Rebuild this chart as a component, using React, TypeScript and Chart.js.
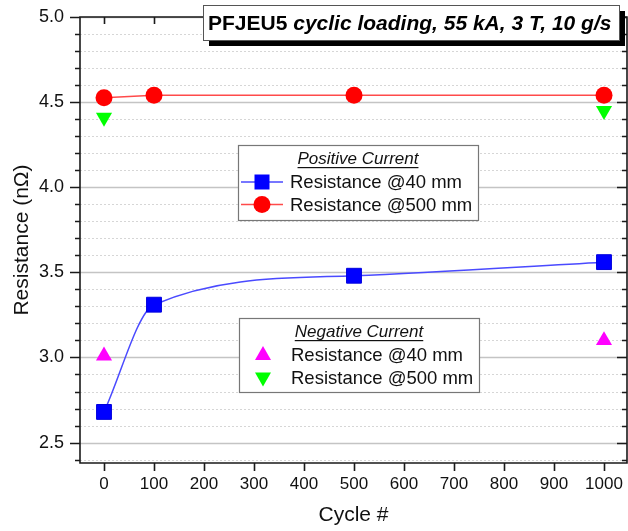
import React, { useEffect, useRef } from "react";
import { Chart, registerables } from "chart.js";

Chart.register(...registerables);

const cyclesPos = [0, 100, 500, 1000];
const res40Pos = [2.68, 3.31, 3.48, 3.56];
const res500Pos = [4.525, 4.54, 4.54, 4.54];
const cyclesNeg = [0, 1000];
const res40Neg = [3.01, 3.1];
const res500Neg = [4.41, 4.45];
const xTickValues = [0, 100, 200, 300, 400, 500, 600, 700, 800, 900, 1000];
const yTickTenths = [24, 25, 26, 27, 28, 29, 30, 31, 32, 33, 34, 35, 36, 37, 38, 39, 40, 41, 42, 43, 44, 45, 46, 47, 48, 49, 50];

const titleBold = "PFJEU5 ";
const titleItalic = "cyclic loading, 55 kA, 3 T, 10 g/s";
const legendPosTitle = "Positive Current";
const legendNegTitle = "Negative Current";
const label40 = "Resistance @40 mm";
const label500 = "Resistance @500 mm";

const FONT = "'Liberation Sans', Arial, sans-serif";
const TEXT = "#111111";

const BLUE = "#0000ff";
const BLUE_LINE = "#4a4aff";
const RED = "#ff0000";
const RED_LINE = "#ff4a4a";
const MAGENTA = "#ff00ff";
const GREEN = "#00ff00";

function drawMarker(ctx: CanvasRenderingContext2D, style: string, x: number, y: number, color: string) {
  ctx.save();
  ctx.fillStyle = color;
  ctx.beginPath();
  if (style === "rect") {
    ctx.rect(x - 7.5, y - 7.5, 15, 15);
  } else if (style === "circle") {
    ctx.arc(x, y, 8.5, 0, Math.PI * 2);
  } else if (style === "up") {
    ctx.moveTo(x, y - 9);
    ctx.lineTo(x + 8, y + 5);
    ctx.lineTo(x - 8, y + 5);
    ctx.closePath();
  } else {
    ctx.moveTo(x, y + 9);
    ctx.lineTo(x + 8, y - 5);
    ctx.lineTo(x - 8, y - 5);
    ctx.closePath();
  }
  ctx.fill();
  ctx.restore();
}

const framePlugin = {
  id: "frame",
  beforeDatasetsDraw(chart: any) {
    const ctx: CanvasRenderingContext2D = chart.ctx;
    const { left, right, top, bottom } = chart.chartArea;
    const ys = chart.scales.y;
    const xs = chart.scales.x;
    ctx.save();
    for (const k of yTickTenths) {
      const py = Math.round(ys.getPixelForValue(k / 10)) + 0.5;
      ctx.beginPath();
      if (k % 5 === 0) {
        ctx.strokeStyle = "#c4c4c4";
        ctx.lineWidth = 1.5;
        ctx.setLineDash([]);
      } else {
        ctx.strokeStyle = "#d6d6d6";
        ctx.lineWidth = 1;
        ctx.setLineDash([2, 2]);
      }
      ctx.moveTo(left, py);
      ctx.lineTo(right, py);
      ctx.stroke();
    }
    ctx.setLineDash([]);
    ctx.strokeStyle = "#1a1a1a";
    ctx.lineWidth = 1.6;
    ctx.beginPath();
    ctx.rect(left, top, right - left, bottom - top);
    ctx.stroke();
    for (const k of yTickTenths) {
      const py = Math.round(ys.getPixelForValue(k / 10)) + 0.5;
      const len = k % 5 === 0 ? 10 : 5;
      ctx.beginPath();
      ctx.moveTo(left, py);
      ctx.lineTo(left - len, py);
      ctx.moveTo(right, py);
      ctx.lineTo(right - len, py);
      ctx.stroke();
    }
    for (const v of xTickValues) {
      const px = Math.round(xs.getPixelForValue(v)) + 0.5;
      ctx.beginPath();
      ctx.moveTo(px, bottom);
      ctx.lineTo(px, bottom + 8);
      ctx.moveTo(px, top);
      ctx.lineTo(px, top + 7);
      ctx.stroke();
    }
    ctx.restore();
  },
  afterDraw(chart: any) {
    const ctx: CanvasRenderingContext2D = chart.ctx;
    ctx.save();
    const drawLegend = (bx: number, by: number, bw: number, bh: number, title: string, rows: { style: string; color: string; line: string | null; text: string }[]) => {
      ctx.fillStyle = "#ffffff";
      ctx.fillRect(bx, by, bw, bh);
      ctx.strokeStyle = "#777777";
      ctx.lineWidth = 1.2;
      ctx.strokeRect(bx + 0.5, by + 0.5, bw, bh);
      ctx.fillStyle = TEXT;
      ctx.font = `italic 17px ${FONT}`;
      ctx.textBaseline = "middle";
      ctx.textAlign = "center";
      const cx = bx + bw / 2;
      const ty = by + 14;
      ctx.fillText(title, cx, ty);
      const tw = ctx.measureText(title).width;
      ctx.fillRect(cx - tw / 2, ty + 8, tw, 1.2);
      ctx.textAlign = "left";
      ctx.font = `18.5px ${FONT}`;
      rows.forEach((r, i) => {
        const ry = by + 37 + i * 22.5;
        if (r.line) {
          ctx.strokeStyle = r.line;
          ctx.lineWidth = 1.5;
          ctx.beginPath();
          ctx.moveTo(bx + 3, ry);
          ctx.lineTo(bx + 45, ry);
          ctx.stroke();
        }
        drawMarker(ctx, r.style, bx + 24, ry, r.color);
        ctx.fillStyle = TEXT;
        ctx.fillText(r.text, bx + 52, ry + 1);
      });
    };
    drawLegend(238, 145, 240, 75, legendPosTitle, [
      { style: "rect", color: BLUE, line: BLUE_LINE, text: label40 },
      { style: "circle", color: RED, line: RED_LINE, text: label500 },
    ]);
    drawLegend(239, 318, 240, 74, legendNegTitle, [
      { style: "up", color: MAGENTA, line: null, text: label40 },
      { style: "down", color: GREEN, line: null, text: label500 },
    ]);
    const tx = 203, ty = 5, tw = 416, th = 35;
    ctx.fillStyle = "#000000";
    ctx.fillRect(tx + 6, ty + 6, tw, th);
    ctx.fillStyle = "#ffffff";
    ctx.fillRect(tx, ty, tw, th);
    ctx.strokeStyle = "#555555";
    ctx.lineWidth = 1;
    ctx.strokeRect(tx + 0.5, ty + 0.5, tw, th);
    ctx.fillStyle = "#000000";
    ctx.textBaseline = "alphabetic";
    ctx.textAlign = "left";
    ctx.font = `bold 21px ${FONT}`;
    const w1 = ctx.measureText(titleBold).width;
    ctx.fillText(titleBold, tx + 5, ty + 25);
    ctx.font = `italic bold 21px ${FONT}`;
    ctx.fillText(titleItalic, tx + 5 + w1, ty + 25);
    ctx.restore();
  },
};

export default function App() {
  const ref = useRef<HTMLCanvasElement | null>(null);
  useEffect(() => {
    if (!ref.current) return;
    const toPts = (xs: number[], ys: number[]) => xs.map((x, i) => ({ x, y: ys[i] }));
    const chart = new Chart(ref.current, {
      type: "line",
      data: {
        datasets: [
          {
            label: label40,
            data: toPts(cyclesPos, res40Pos),
            borderColor: BLUE_LINE,
            borderWidth: 1.5,
            backgroundColor: BLUE,
            pointBackgroundColor: BLUE,
            pointBorderColor: "#0000dd",
            pointBorderWidth: 1,
            pointStyle: "rect",
            pointRadius: 10.5,
            cubicInterpolationMode: "monotone",
          },
          {
            label: label500,
            data: toPts(cyclesPos, res500Pos),
            borderColor: RED_LINE,
            borderWidth: 1.5,
            backgroundColor: RED,
            pointBackgroundColor: RED,
            pointBorderColor: RED,
            pointBorderWidth: 0,
            pointStyle: "circle",
            pointRadius: 8.5,
            tension: 0,
          },
          {
            label: label40 + " (neg)",
            data: toPts(cyclesNeg, res40Neg),
            showLine: false,
            pointBackgroundColor: MAGENTA,
            pointBorderColor: MAGENTA,
            pointBorderWidth: 0,
            pointStyle: "triangle",
            pointRadius: 9.3,
          },
          {
            label: label500 + " (neg)",
            data: toPts(cyclesNeg, res500Neg),
            showLine: false,
            pointBackgroundColor: GREEN,
            pointBorderColor: GREEN,
            pointBorderWidth: 0,
            pointStyle: "triangle",
            pointRotation: 180,
            pointRadius: 9.3,
          },
        ],
      },
      options: {
        animation: false,
        responsive: false,
        events: [],
        layout: { autoPadding: false, padding: { top: 17, right: 1, left: 0, bottom: 0 } },
        plugins: { legend: { display: false }, tooltip: { enabled: false }, title: { display: false } },
        scales: {
          x: {
            type: "linear",
            min: -48,
            max: 1046,
            afterBuildTicks: (s: any) => {
              s.ticks = xTickValues.map((v) => ({ value: v }));
            },
            afterFit: (s: any) => {
              s.height = 68;
              s.paddingLeft = 0;
              s.paddingRight = 0;
            },
            grid: { display: false, drawTicks: false },
            border: { display: false },
            ticks: {
              autoSkip: false,
              maxRotation: 0,
              padding: 11,
              color: TEXT,
              font: { family: FONT, size: 17 },
              callback: (v: any) => String(v),
            },
            title: {
              display: true,
              text: "Cycle #",
              color: TEXT,
              font: { family: FONT, size: 21 },
              padding: { top: 0, bottom: 3 },
            },
          },
          y: {
            min: 2.38,
            max: 5.0,
            afterBuildTicks: (s: any) => {
              s.ticks = yTickTenths.map((k) => ({ value: k / 10 }));
            },
            afterFit: (s: any) => {
              s.width = 80;
              s.paddingTop = 0;
              s.paddingBottom = 0;
            },
            grid: { display: false, drawTicks: false },
            border: { display: false },
            ticks: {
              autoSkip: false,
              padding: 16,
              color: TEXT,
              font: { family: FONT, size: 18 },
              callback: (v: any) => {
                const k = Math.round(Number(v) * 10);
                return k % 5 === 0 ? (k / 10).toFixed(1) : "";
              },
            },
            title: {
              display: true,
              text: "Resistance (nΩ)",
              color: TEXT,
              font: { family: FONT, size: 21 },
              padding: { top: 10, bottom: 0 },
            },
          },
        },
      },
      plugins: [framePlugin],
    } as any);
    return () => chart.destroy();
  }, []);
  return (
    <div style={{ position: "absolute", left: 0, top: 0, width: 628, height: 531, background: "#fff" }}>
      <canvas ref={ref} width={628} height={531} style={{ display: "block" }} />
    </div>
  );
}
